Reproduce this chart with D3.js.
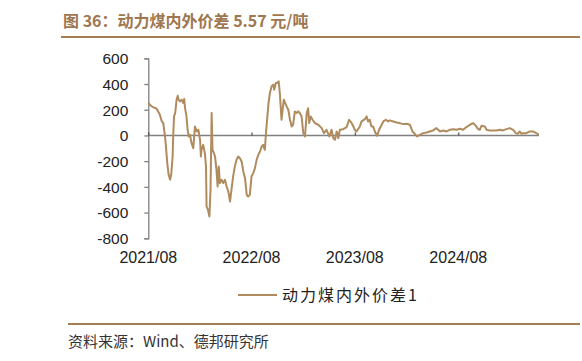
<!DOCTYPE html>
<html><head><meta charset="utf-8">
<script src="https://cdn.jsdelivr.net/npm/d3@7/dist/d3.min.js"></script>
<style>
body{margin:0;background:#fff;}
svg{display:block;}
text{font-family:"Liberation Sans",Arial,sans-serif;}
.cjk{font-family:"Noto Sans CJK SC","Liberation Sans",sans-serif;}
</style></head>
<body><svg id="c" width="582" height="361"></svg>
<script>
const title = "图 36：动力煤内外价差 5.57 元/吨";
const seriesName = "动力煤内外价差1";
const source = "资料来源：Wind、德邦研究所";
const yTicks = [600,400,200,0,-200,-400,-600,-800];
const xTickDates = ["2021-08-01","2022-08-01","2023-08-01","2024-08-01"];
const xTickLabels = ["2021/08","2022/08","2023/08","2024/08"];
const dates = ["2021-08-01","2021-08-13","2021-08-25","2021-08-30","2021-09-11","2021-09-17","2021-09-23","2021-09-29","2021-10-02","2021-10-07","2021-10-12","2021-10-17","2021-10-21","2021-10-26","2021-10-28","2021-10-31","2021-11-04","2021-11-09","2021-11-13","2021-11-16","2021-11-21","2021-11-27","2021-12-03","2021-12-06","2021-12-09","2021-12-14","2021-12-18","2021-12-22","2021-12-26","2022-01-01","2022-01-07","2022-01-13","2022-01-19","2022-01-25","2022-01-31","2022-02-03","2022-02-05","2022-02-11","2022-02-17","2022-02-21","2022-02-23","2022-02-28","2022-03-05","2022-03-09","2022-03-13","2022-03-16","2022-03-21","2022-03-25","2022-03-30","2022-04-03","2022-04-07","2022-04-11","2022-04-17","2022-04-23","2022-04-29","2022-05-05","2022-05-11","2022-05-17","2022-05-22","2022-05-28","2022-06-03","2022-06-09","2022-06-15","2022-06-21","2022-06-27","2022-07-03","2022-07-09","2022-07-15","2022-07-20","2022-07-26","2022-08-01","2022-08-07","2022-08-13","2022-08-19","2022-08-25","2022-08-31","2022-09-06","2022-09-11","2022-09-17","2022-09-21","2022-09-26","2022-09-30","2022-10-05","2022-10-11","2022-10-17","2022-10-20","2022-10-26","2022-10-31","2022-11-05","2022-11-09","2022-11-15","2022-11-19","2022-11-23","2022-11-28","2022-12-03","2022-12-09","2022-12-15","2022-12-21","2022-12-26","2023-01-01","2023-01-07","2023-01-13","2023-01-19","2023-01-25","2023-01-31","2023-02-06","2023-02-12","2023-02-17","2023-02-21","2023-02-26","2023-03-05","2023-03-13","2023-03-25","2023-04-06","2023-04-14","2023-04-23","2023-05-03","2023-05-11","2023-05-17","2023-05-23","2023-05-29","2023-06-04","2023-06-09","2023-06-21","2023-07-03","2023-07-12","2023-07-21","2023-07-27","2023-08-01","2023-08-07","2023-08-19","2023-08-25","2023-09-06","2023-09-12","2023-09-17","2023-09-23","2023-09-29","2023-10-05","2023-10-11","2023-10-19","2023-10-26","2023-11-04","2023-11-10","2023-11-19","2023-11-27","2023-12-03","2023-12-15","2023-12-27","2024-01-07","2024-01-19","2024-01-31","2024-02-12","2024-02-21","2024-02-29","2024-03-08","2024-03-18","2024-03-30","2024-04-11","2024-04-22","2024-05-04","2024-05-16","2024-05-22","2024-05-28","2024-06-09","2024-06-20","2024-07-02","2024-07-14","2024-07-26","2024-08-07","2024-08-18","2024-08-30","2024-09-11","2024-09-23","2024-10-02","2024-10-10","2024-10-16","2024-10-22","2024-11-03","2024-11-09","2024-11-20","2024-12-02","2024-12-14","2024-12-26","2025-01-06","2025-01-18","2025-01-30","2025-02-11","2025-02-20","2025-02-28","2025-03-06","2025-03-12","2025-03-18","2025-03-30","2025-04-11","2025-04-22","2025-05-04","2025-05-13"];
const values = [252,226,213,210,161,114,96,-8,-73,-215,-306,-345,-306,-164,-8,148,174,278,309,278,265,278,252,283,213,148,44,-8,5,-60,-99,70,31,44,-34,-164,-112,-73,-138,-241,-553,-579,-631,-423,174,-112,-138,-164,-267,-397,-241,-371,-345,-371,-345,-397,-436,-514,-423,-319,-241,-190,-164,-177,-203,-280,-332,-462,-475,-462,-319,-293,-254,-190,-151,-125,-86,-73,-112,18,148,252,330,382,395,356,408,408,421,330,122,200,278,252,226,200,122,70,83,187,174,187,173,148,18,-8,173,212,96,148,122,96,83,57,18,44,-8,44,-21,-34,31,-21,44,49,65,122,96,70,44,31,70,109,127,148,109,122,70,70,31,-3,44,83,109,122,109,117,109,101,96,88,91,83,31,13,-8,5,18,23,31,39,57,44,31,39,31,44,49,44,52,44,65,83,96,75,49,44,75,70,44,39,39,39,44,39,49,57,44,18,13,31,13,18,18,31,31,18,5.57];

const parse = d3.timeParse("%Y-%m-%d");
const data = dates.map((d,i)=>({date:parse(d), value:values[i]}));
const svg = d3.select("#c");
const brown = "#a47d55";
const lineColor = "#b08b5e";
const axisColor = "#808080";

// title
svg.append("text").attr("class","cjk").attr("x",63).attr("y",27)
  .attr("font-size",16).attr("font-weight","bold").attr("fill","#9e7751").text(title);
svg.append("line").attr("x1",61).attr("x2",580).attr("y1",37).attr("y2",37)
  .attr("stroke",brown).attr("stroke-width",2);

const x = d3.scaleTime().domain(d3.extent(data,d=>d.date)).range([148.3,538.9]);
const y = d3.scaleLinear().domain([-800,600]).range([238.3,58.3]);

// y axis
const yAxis = svg.append("g").attr("transform","translate(148.3,0)")
  .call(d3.axisLeft(y).tickValues(yTicks).tickSize(4).tickFormat(d=>String(d)));
yAxis.select(".domain").attr("stroke",axisColor).attr("stroke-width",1.3);
yAxis.selectAll(".tick line").attr("stroke",axisColor).attr("stroke-width",1.3);
yAxis.selectAll(".tick text").attr("font-size",15.5).attr("fill","#222")
  .attr("font-family","Liberation Sans, Arial, sans-serif").attr("dy","0.34em").attr("x",-20);

// x axis at zero
const xAxis = svg.append("g").attr("transform",`translate(0,${y(0)})`)
  .call(d3.axisTop(x).tickValues(xTickDates.map(parse)).tickSize(3).tickFormat(()=>""));
xAxis.select(".domain").attr("stroke",axisColor).attr("stroke-width",1.5).attr("d",`M${x.range()[0]},0H${x.range()[1]}`);
xAxis.selectAll(".tick line").attr("stroke","#333").attr("stroke-width",1);

// x labels
svg.append("g").selectAll("text").data(xTickDates).join("text")
  .attr("x",d=>x(parse(d))).attr("y",263).attr("text-anchor","middle")
  .attr("font-size",16).attr("fill","#222").text((d,i)=>xTickLabels[i]);

// line
svg.append("path").datum(data)
  .attr("fill","none").attr("stroke",lineColor).attr("stroke-width",2)
  .attr("stroke-linejoin","round")
  .attr("d",d3.line().x(d=>x(d.date)).y(d=>y(d.value)));

// legend
svg.append("line").attr("x1",238).attr("x2",277).attr("y1",295).attr("y2",295)
  .attr("stroke",lineColor).attr("stroke-width",2);
svg.append("text").attr("class","cjk").attr("x",282).attr("y",301)
  .attr("font-size",16).attr("letter-spacing",2).attr("fill","#222").text(seriesName);

// bottom rule + source
svg.append("line").attr("x1",68).attr("x2",580).attr("y1",324).attr("y2",324)
  .attr("stroke",brown).attr("stroke-width",2);
svg.append("text").attr("class","cjk").attr("x",68).attr("y",347)
  .attr("font-size",15).attr("fill","#333").text(source);
</script></body></html>
